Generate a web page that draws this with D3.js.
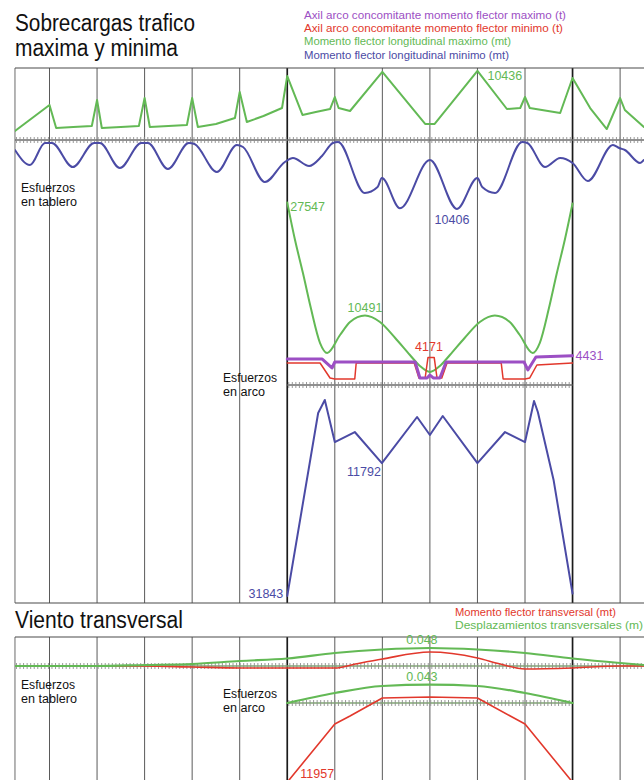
<!DOCTYPE html>
<html>
<head>
<meta charset="utf-8">
<script src="https://cdn.jsdelivr.net/npm/d3@7"></script>
<style>
  html, body { margin: 0; padding: 0; background: #fff; }
  svg { display: block; }
</style>
</head>
<body>
<svg id="chart" width="644" height="780"></svg>
<script>
// Stations along the bridge (hanger / pier lines), in span units
const stations = [0, 1, 2, 3, 4, 5, 6, 7, 8, 9, 10, 11, 12];
const archSprings = [5, 11];
const deckStart = -0.726, deckEnd = 12.5;

// ---- Traffic live load: deck bending moments (t·m), [station, value]
const deckMomentMax = [
  [-0.726, 1360], [0, 5290], [0.14, 1810], [0.5, 1960], [0.89, 2110],
  [1, 6040], [1.1, 1810], [1.5, 1960], [1.88, 2110],
  [2, 6340], [2.11, 1960], [2.5, 2110], [2.89, 2270],
  [3, 6340], [3.12, 1960], [3.5, 2420], [3.9, 3320],
  [4, 7250], [4.15, 2720], [4.5, 3620], [4.89, 4830],
  [5, 9660], [5.32, 3780], [5.6, 4230], [5.9, 4680],
  [6, 6490], [6.08, 4830], [6.32, 4380],
  [7, 10300], [7.9, 2420], [8.1, 2420],
  [9, 10436], [9.62, 4680], [9.9, 4830],
  [10, 6490], [10.1, 4830], [10.74, 4080],
  [11, 9360], [11.37, 4830], [11.72, 1660],
  [12, 6340], [12.1, 4530], [12.5, 1960]
];
const deckMomentMin = [
  [-0.726, -1510], [-0.41, -3780], [-0.095, -450], [0.05, -450], [0.49, -4080],
  [0.94, -450], [1.06, -450], [1.48, -4230], [1.93, -450], [2.07, -450],
  [2.49, -4380], [2.93, -450], [3.05, -600], [3.52, -4830], [3.94, -750],
  [4.07, -1060], [4.53, -6340], [4.95, -3320], [5.12, -2720], [5.46, -3930],
  [5.73, -2420], [5.96, -450], [6.07, -300], [6.63, -8000], [6.9, -7100],
  [6.99, -5740], [7.37, -10300], [8, -3020], [8.57, -10406], [9, -5740],
  [9.1, -7100], [9.37, -8000], [9.94, -300], [10.05, -450], [10.42, -4080],
  [10.74, -2720], [11, -3470], [11.32, -6190], [11.85, -750], [11.98, -1210],
  [12.1, -1510], [12.42, -3470], [12.5, -3020]
];

// ---- Traffic live load: arch bending moments (t·m)
const archMomentMax = [
  [5, 27547], [5.16, 22000], [5.33, 16900], [5.5, 11500], [5.69, 6340],
  [5.84, 4830], [6.11, 7550], [6.32, 9510], [6.635, 10491], [6.95, 9510],
  [7.27, 7100], [7.58, 4530], [7.79, 2870], [8, 1960], [8.21, 2870],
  [8.42, 4530], [8.73, 7100], [9.05, 9510], [9.365, 10491], [9.68, 9510],
  [9.89, 7550], [10.16, 4830], [10.31, 6340], [10.5, 11500], [10.67, 16900],
  [10.84, 22000], [11, 27400]
];
const archMomentMin = [
  [5, -31843], [5.65, -4230], [5.79, -2265], [6, -8610], [6.42, -7100],
  [6.99, -11792], [7.73, -4830], [8, -7550], [8.27, -4680], [9, -11792],
  [9.58, -7100], [10, -8610], [10.19, -2420], [10.27, -4080], [10.6, -14300],
  [11, -31500]
];

// ---- Arch axial force concurrent with max / min bending moment (t)
const archAxialAtMax = [
  [5, 3930], [5.73, 3930], [5.94, 2570], [6, 3470], [7.69, 3470],
  [7.79, 1060], [7.94, 1060], [8, 1510], [8.07, 1060], [8.21, 1060],
  [8.34, 3470], [9.98, 3470], [10.06, 2270], [10.23, 4230], [11, 4431]
];
const archAxialAtMin = [
  [5, 3320], [5.69, 3320], [5.9, 1060], [6, 910], [6.42, 910],
  [6.45, 3320], [7.67, 3320], [7.77, 1060], [7.9, 1060], [7.96, 4171],
  [8.09, 4171], [8.15, 1060], [8.25, 1060], [8.36, 3320], [9.5, 3320],
  [9.54, 910], [10, 910], [10.1, 1060], [10.25, 3020], [11, 3320]
];

// ---- Transverse wind: bending moments (t·m) and displacements (m)
const windDeckMoment = [
  [-0.726, 0], [2, 0], [3, -150], [4, -300], [5, -300], [6, -300],
  [6.43, 300], [7, 1060], [8, 2110], [9, 1210], [9.48, 300],
  [10, -450], [11, -300], [12, 0], [12.5, 0]
];
const windDeckDisp = [
  [-0.726, 0], [1, 0], [2, 0.0027], [3, 0.0053], [4, 0.0133],
  [5, 0.020], [6, 0.0347], [7, 0.044], [8, 0.048], [9, 0.044],
  [10, 0.0347], [11, 0.020], [12, 0.008], [12.5, 0.0027]
];
const windArchMoment = [
  [5, -11957], [6, -3170], [6.32, -1960], [7, 760], [8, 910],
  [9, 760], [9.69, -1960], [10, -3170], [11, -11957]
];
const windArchDisp = [
  [5, 0], [6, 0.0235], [7, 0.040], [8, 0.043], [9, 0.040],
  [10, 0.0235], [11, 0]
];

// ---- Legends and captions
const legendTraffic = [
  { text: "Axil arco concomitante momento flector maximo (t)", key: "purple", w: 262 },
  { text: "Axil arco concomitante momento flector minimo (t)", key: "red", w: 259 },
  { text: "Momento flector longitudinal maximo (mt)", key: "green", w: 207 },
  { text: "Momento flector longitudinal minimo (mt)", key: "blue", w: 205 }
];
const legendWind = [
  { text: "Momento flector transversal (mt)", key: "red", w: 161 },
  { text: "Desplazamientos transversales (m)", key: "green", w: 188 }
];
const captionDeck = [{ t: "Esfuerzos", w: 54 }, { t: "en tablero", w: 56 }];
const captionArch = [{ t: "Esfuerzos", w: 54 }, { t: "en arco", w: 42 }];

const COLORS = {
  green: "#63b955", blue: "#4b4ba5", purple: "#9c4fc4", red: "#e2382c"
};
const FONT = '"Liberation Sans Narrow","Arial Narrow","Liberation Sans",Arial,sans-serif';

const svg = d3.select("#chart");
const W = 644, H = 780;

// Horizontal scale shared by both panels
const x = d3.scaleLinear().domain([0, 12]).range([49.5, 620.1]);

// Traffic panel: one pixel = 151 t·m (or t)
const traffic = { y0: 68, y1: 603, deck: 140, arch: 385 };
const yDeck = d3.scaleLinear().domain([0, 15100]).range([traffic.deck, traffic.deck - 100]);
const yArch = d3.scaleLinear().domain([0, 15100]).range([traffic.arch, traffic.arch - 100]);

// Wind panel
const wind = { y0: 637, y1: 780, deck: 666, arch: 703 };
const yWDeckM = d3.scaleLinear().domain([0, 15100]).range([wind.deck, wind.deck - 100]);
const yWDeckD = d3.scaleLinear().domain([0, 0.048]).range([wind.deck, wind.deck - 18]);
const yWArchM = d3.scaleLinear().domain([0, 15100]).range([wind.arch, wind.arch - 100]);
const yWArchD = d3.scaleLinear().domain([0, 0.0235]).range([wind.arch, wind.arch - 10]);

const xL = x(deckStart), xR = W;

// clip regions for each panel
const defs = svg.append("defs");
defs.append("clipPath").attr("id", "clipTop").append("rect")
  .attr("x", xL).attr("y", traffic.y0).attr("width", xR - xL).attr("height", traffic.y1 - traffic.y0);
defs.append("clipPath").attr("id", "clipWind").append("rect")
  .attr("x", xL).attr("y", wind.y0).attr("width", xR - xL).attr("height", H - wind.y0);

function panelFrame(p, bottomLine) {
  const g = svg.append("g");
  g.selectAll("line.st").data(stations).join("line")
    .attr("x1", d => x(d)).attr("x2", d => x(d))
    .attr("y1", p.y0).attr("y2", p.y1)
    .attr("stroke", d => archSprings.includes(d) ? "#1a1a1a" : "#5a5a5a")
    .attr("stroke-width", d => archSprings.includes(d) ? 1.7 : 1);
  g.append("line").attr("x1", xL).attr("x2", xL).attr("y1", p.y0).attr("y2", p.y1)
    .attr("stroke", "#6a6a6a").attr("stroke-width", 1);
  g.append("line").attr("x1", xL).attr("x2", xR).attr("y1", p.y0).attr("y2", p.y0)
    .attr("stroke", "#4a4a4a").attr("stroke-width", 1.2);
  if (bottomLine) {
    g.append("line").attr("x1", xL).attr("x2", xR).attr("y1", p.y1).attr("y2", p.y1)
      .attr("stroke", "#4a4a4a").attr("stroke-width", 1.2);
  }
}

// hatched reference axis of a structural member
function hatchAxis(x0, x1, y, tint) {
  const g = svg.append("g");
  g.append("line").attr("x1", x0).attr("x2", x1).attr("y1", y).attr("y2", y)
    .attr("stroke", tint || "#6d6d6d").attr("stroke-width", 1.3);
  g.selectAll("line.t").data(d3.range(x0 + 1.5, x1, 3.55)).join("line")
    .attr("x1", d => d).attr("x2", d => d).attr("y1", y - 3).attr("y2", y + 3)
    .attr("stroke", "#8d8d8d").attr("stroke-width", 0.9);
}

function curve(data, yScale, color, width, clip, curveType) {
  const line = d3.line().x(d => x(d[0])).y(d => yScale(d[1])).curve(curveType || d3.curveLinear);
  svg.append("path").datum(data)
    .attr("d", line)
    .attr("fill", "none")
    .attr("stroke", color)
    .attr("stroke-width", width)
    .attr("stroke-linejoin", "round")
    .attr("stroke-linecap", "round")
    .attr("clip-path", `url(#${clip})`);
}

function label(txt, px, py, color, anchor, size) {
  return svg.append("text").attr("x", px).attr("y", py)
    .attr("fill", color).attr("font-family", FONT)
    .attr("font-size", size || 12.5).attr("text-anchor", anchor || "start")
    .text(txt);
}

function fitted(txt, px, py, size, w, color) {
  svg.append("text").attr("x", px).attr("y", py)
    .attr("font-family", FONT).attr("font-size", size)
    .attr("fill", color || "#111")
    .attr("textLength", w).attr("lengthAdjust", "spacingAndGlyphs")
    .text(txt);
}

// two-line caption held in a single text element
function caption(lines, px, py) {
  const t = svg.append("text").attr("font-family", FONT).attr("font-size", 12).attr("fill", "#111");
  lines.forEach((l, i) => {
    t.append("tspan").attr("x", px).attr("y", py + i * 14)
      .attr("textLength", l.w).attr("lengthAdjust", "spacingAndGlyphs")
      .text(l.t);
  });
}

// ================= Traffic panel =================
fitted("Sobrecargas trafico", 15, 31, 23, 180);
fitted("maxima y minima", 15, 56, 23, 163);
legendTraffic.forEach((d, i) => fitted(d.text, 304, 18.5 + i * 13.4, 11.5, d.w, COLORS[d.key]));

panelFrame(traffic, true);
hatchAxis(xL, xR, traffic.deck);
hatchAxis(x(archSprings[0]), x(archSprings[1]), traffic.arch);

curve(deckMomentMax, yDeck, COLORS.green, 2, "clipTop");
curve(deckMomentMin, yDeck, COLORS.blue, 2, "clipTop", d3.curveMonotoneX);
curve(archMomentMax, yArch, COLORS.green, 2, "clipTop", d3.curveMonotoneX);
curve(archAxialAtMin, yArch, COLORS.red, 1.5, "clipTop");
curve(archAxialAtMax, yArch, COLORS.purple, 3, "clipTop");
curve(archMomentMin, yArch, COLORS.blue, 2, "clipTop");

caption(captionDeck, 21, 192);
caption(captionArch, 223, 381.5);

// value labels, anchored on the marks they describe
const pk = (arr, s) => arr.find(d => d[0] === s);
let p = pk(deckMomentMax, 9);
label(d3.format("d")(p[1]), x(p[0]) + 10, yDeck(p[1]) + 9, COLORS.green);
p = pk(deckMomentMin, 8.57);
label(d3.format("d")(-p[1]), x(p[0]) - 5, yDeck(p[1]) + 15, COLORS.blue, "middle");
p = pk(archMomentMax, 5);
label(d3.format("d")(p[1]), x(p[0]) + 3, yArch(p[1]) + 8, COLORS.green);
p = pk(archMomentMax, 6.635);
label(d3.format("d")(p[1]), x(p[0]), yArch(p[1]) - 4, COLORS.green, "middle");
p = pk(archAxialAtMin, 7.96);
label(d3.format("d")(p[1]), x(p[0]) + 1, yArch(p[1]) - 6, COLORS.red, "middle");
p = pk(archAxialAtMax, 11);
label(d3.format("d")(p[1]), x(p[0]) + 3, yArch(p[1]) + 4, COLORS.purple);
p = pk(archMomentMin, 6.99);
label(d3.format("d")(-p[1]), x(p[0]) - 1, yArch(p[1]) + 13, COLORS.blue, "end");
p = pk(archMomentMin, 5);
label(d3.format("d")(-p[1]), x(p[0]) - 4, yArch(p[1]) + 2, COLORS.blue, "end");

// ================= Wind panel =================
fitted("Viento transversal", 15, 628, 23, 168);
legendWind.forEach((d, i) => fitted(d.text, 455, 615.5 + i * 13.5, 11.5, d.w, COLORS[d.key]));

panelFrame(wind, false);
hatchAxis(xL, xR, wind.deck, "#7fa870");
hatchAxis(x(archSprings[0]), x(archSprings[1]), wind.arch, "#7fa870");

curve(windDeckMoment, yWDeckM, COLORS.red, 1.6, "clipWind", d3.curveMonotoneX);
curve(windDeckDisp, yWDeckD, COLORS.green, 2.2, "clipWind", d3.curveMonotoneX);
curve(windArchDisp, yWArchD, COLORS.green, 2.2, "clipWind", d3.curveMonotoneX);
curve(windArchMoment, yWArchM, COLORS.red, 1.6, "clipWind");

caption(captionDeck, 21, 689);
caption(captionArch, 223, 698);

p = pk(windDeckDisp, 8);
label(d3.format(".3f")(p[1]), x(p[0]) - 8, yWDeckD(p[1]) - 4, COLORS.green, "middle");
p = pk(windArchDisp, 8);
label(d3.format(".3f")(p[1]), x(p[0]) - 8, yWArchD(p[1]) - 4, COLORS.green, "middle");
p = pk(windArchMoment, 5);
label(d3.format("d")(-p[1]), x(p[0]) + 13, yWArchM(p[1]) - 4, COLORS.red);
</script>
</body>
</html>
